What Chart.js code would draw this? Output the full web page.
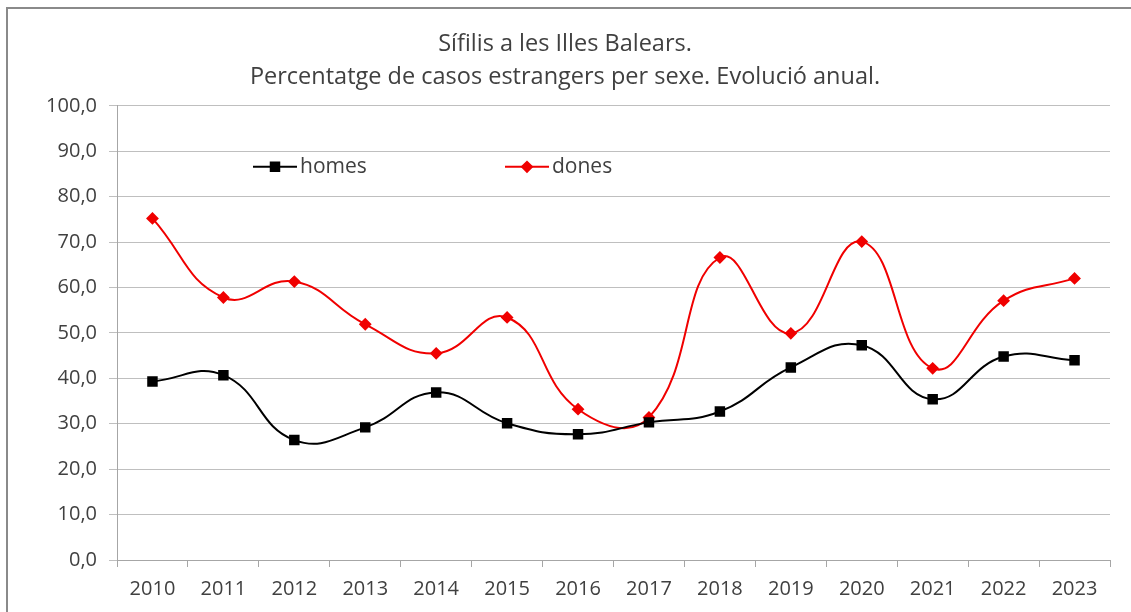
<!DOCTYPE html>
<html>
<head>
<meta charset="utf-8">
<script src="https://cdn.jsdelivr.net/npm/chart.js@4.4.1/dist/chart.umd.min.js"></script>
<style>
  html, body { margin: 0; padding: 0; background: #fff; overflow: hidden; }
  #frame { position: absolute; left: 6px; top: 7px; width: 1200px; height: 700px; border: 2px solid #8a8a8a; }
  #graf { position: absolute; left: 0; top: 0; }
</style>
</head>
<body>
<div id="frame"></div>
<canvas id="graf" width="1131" height="612"></canvas>
<script>
  var anys = ['2010', '2011', '2012', '2013', '2014', '2015', '2016', '2017', '2018', '2019', '2020', '2021', '2022', '2023'];
  var homes = [39.3, 40.7, 26.4, 29.2, 36.9, 30.1, 27.7, 30.3, 32.7, 42.4, 47.3, 35.4, 44.8, 44.0];
  var dones = [75.2, 57.8, 61.3, 51.9, 45.5, 53.4, 33.2, 31.4, 66.6, 49.9, 70.1, 42.2, 57.1, 62.0];
  var titol = ['Sífilis a les Illes Balears.', 'Percentatge de casos estrangers per sexe. Evolució anual.'];

  var gris = '#404040';
  var font = "'Open Sans', 'Noto Sans', sans-serif";

  // llegenda dins l'area del grafic
  var llegendaDins = {
    id: 'llegendaDins',
    afterDraw: function (chart) {
      var ctx = chart.ctx;
      var area = chart.chartArea;
      var posX = [area.left + 136, area.left + 388];
      var y = area.top + 61;
      ctx.save();
      chart.data.datasets.forEach(function (ds, i) {
        var x = posX[i];
        ctx.strokeStyle = ds.borderColor;
        ctx.lineWidth = 2;
        ctx.beginPath();
        ctx.moveTo(x, y);
        ctx.lineTo(x + 44, y);
        ctx.stroke();
        Chart.helpers.drawPoint(ctx, {
          pointStyle: ds.pointStyle,
          radius: ds.pointRadius,
          borderWidth: 1
        }, x + 22, y);
        ctx.fillStyle = ds.borderColor;
        ctx.fill();
        ctx.fillStyle = gris;
        ctx.font = '21px ' + font;
        ctx.textBaseline = 'middle';
        ctx.fillText(ds.label, x + 47, y);
      });
      ctx.restore();
    }
  };

  const dades = {
    labels: anys,
    datasets: [
      {
        label: 'homes',
        data: homes,
        borderColor: '#000000',
        backgroundColor: '#000000',
        borderWidth: 2,
        pointStyle: 'rect',
        pointRadius: 6,
        tension: 0.45
      },
      {
        label: 'dones',
        data: dones,
        borderColor: '#f00000',
        backgroundColor: '#f00000',
        borderWidth: 2,
        pointStyle: 'rectRot',
        pointRadius: 5,
        tension: 0.45
      }
    ]
  };

  const config = {
    type: 'line',
    data: dades,
    options: {
      responsive: false,
      animation: false,
      layout: { padding: { top: 18, right: 21, left: 20, bottom: 0 } },
      plugins: {
        legend: { display: false },
        tooltip: { enabled: false },
        title: {
          display: true,
          text: titol,
          color: gris,
          font: { family: font, size: 23.5, weight: 'normal', lineHeight: 1.4 },
          padding: { top: 10, bottom: 12 }
        }
      },
      scales: {
        x: {
          offset: true,
          grid: { offset: true, drawOnChartArea: false, drawTicks: true, tickLength: 7, color: '#a6a6a6' },
          border: { display: true, color: '#a6a6a6' },
          ticks: { color: gris, font: { family: font, size: 20 }, padding: 10, maxRotation: 0 },
          afterFit: function (s) { s.height = 52; }
        },
        y: {
          min: 0,
          max: 100,
          grid: { color: '#bfbfbf', tickLength: 8, lineWidth: 1 },
          border: { display: true, color: '#a6a6a6' },
          ticks: {
            stepSize: 10,
            color: gris,
            font: { family: font, size: 20 },
            padding: 12,
            callback: function (v) { return v.toFixed(1).replace('.', ','); }
          },
          afterFit: function (s) { s.width = 97; }
        }
      }
    },
    plugins: [llegendaDins]
  };

  var grafic = new Chart(document.getElementById('graf'), config);
</script>
</body>
</html>
